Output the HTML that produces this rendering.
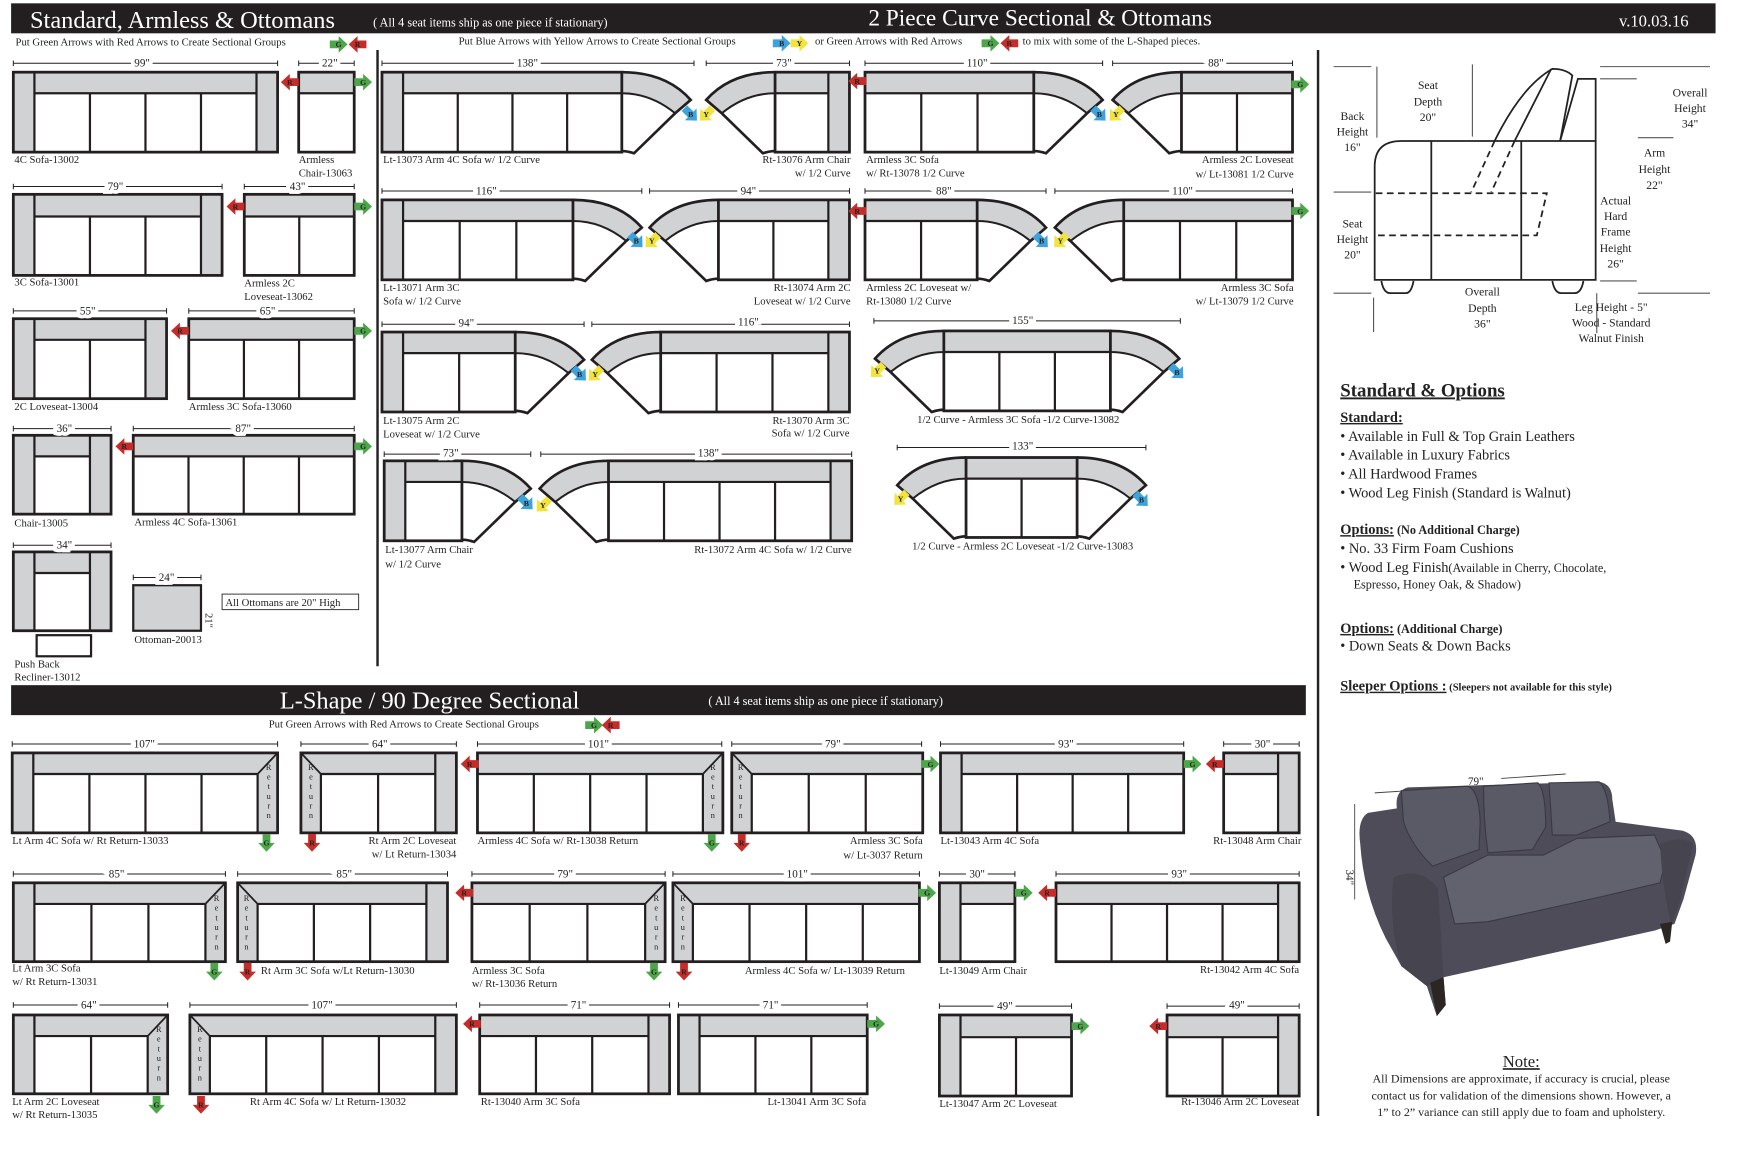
<!DOCTYPE html>
<html><head><meta charset="utf-8">
<style>
html,body{margin:0;padding:0;background:#fff;}
svg{display:block;}
text{font-family:"Liberation Serif",serif;fill:#222;}
.lb{font-size:9.6px;}
.dm{font-size:10px;text-anchor:middle;paint-order:stroke;stroke:#fff;stroke-width:7px;}
.al{font-size:7px;font-weight:bold;text-anchor:middle;fill:#222;}
.rt{font-size:7.5px;writing-mode:vertical-rl;text-orientation:upright;letter-spacing:0.6px;}
.hd{fill:#fff;}
.sd{font-size:10.5px;text-anchor:middle;}
.op{font-size:13px;}
</style></head>
<body>
<svg id="s" width="1740" height="1156" viewBox="0 0 1567 1041" preserveAspectRatio="none" xmlns="http://www.w3.org/2000/svg">
<defs>
<polygon id="ar" points="-8,-3.5 0,-3.5 0,-7.5 8,0 0,7.5 0,3.5 -8,3.5"/>
</defs>
<rect x="10" y="3" width="1535" height="27" fill="#231f20"/>
<text class="hd" x="27" y="25" font-size="22">Standard, Armless &amp; Ottomans</text>
<text class="hd" x="336" y="24" font-size="11">( All 4 seat items ship as one piece if stationary)</text>
<text class="hd" x="782" y="23" font-size="21">2 Piece Curve Sectional &amp; Ottomans</text>
<text class="hd" x="1458" y="24" font-size="15">v.10.03.16</text>
<text class="lb" x="14" y="41">Put Green Arrows with Red Arrows to Create Sectional Groups</text>
<text class="lb" x="413" y="40">Put Blue Arrows with Yellow Arrows to Create Sectional Groups</text>
<text class="lb" x="734" y="40">or Green Arrows with Red Arrows</text>
<text class="lb" x="921" y="40">to mix with some of the L-Shaped pieces.</text>

<line x1="340" y1="45" x2="340" y2="600" stroke="#222" stroke-width="2.2"/>
<line x1="1187" y1="45" x2="1187" y2="1005" stroke="#222" stroke-width="2.2"/>

<rect x="10" y="617" width="1166" height="27" fill="#231f20"/>
<text class="hd" x="252" y="638" font-size="22">L-Shape / 90 Degree Sectional</text>
<text class="hd" x="638" y="635" font-size="11">( All 4 seat items ship as one piece if stationary)</text>
<text class="lb" x="242" y="655">Put Green Arrows with Red Arrows to Create Sectional Groups</text>

<g id="shapes"></g>

<g id="arrows">
<use href="#ar" fill="#4ea64a" transform="translate(305,40)"/><text class="al" x="305" y="42.5">G</text>
<use href="#ar" fill="#c62d2a" transform="translate(322,40) rotate(180)"/><text class="al" x="322" y="42.5">R</text>
<use href="#ar" fill="#3da3dd" transform="translate(704,39)"/><text class="al" x="704" y="41.5">B</text>
<use href="#ar" fill="#f2e43b" transform="translate(720,39)"/><text class="al" x="720" y="41.5">Y</text>
<use href="#ar" fill="#4ea64a" transform="translate(892,39)"/><text class="al" x="892" y="41.5">G</text>
<use href="#ar" fill="#c62d2a" transform="translate(909,39) rotate(180)"/><text class="al" x="909" y="41.5">R</text>
<use href="#ar" fill="#4ea64a" transform="translate(535,653)"/><text class="al" x="535" y="655.5">G</text>
<use href="#ar" fill="#c62d2a" transform="translate(550,653) rotate(180)"/><text class="al" x="550" y="655.5">R</text>
<use href="#ar" fill="#c62d2a" transform="translate(261,74) rotate(180)"/><text class="al" x="261" y="76.5">R</text>
<use href="#ar" fill="#4ea64a" transform="translate(327,74)"/><text class="al" x="327" y="76.5">G</text>
<use href="#ar" fill="#c62d2a" transform="translate(212,186) rotate(180)"/><text class="al" x="212" y="188.5">R</text>
<use href="#ar" fill="#4ea64a" transform="translate(327,186)"/><text class="al" x="327" y="188.5">G</text>
<use href="#ar" fill="#c62d2a" transform="translate(162,298) rotate(180)"/><text class="al" x="162" y="300.5">R</text>
<use href="#ar" fill="#4ea64a" transform="translate(327,298)"/><text class="al" x="327" y="300.5">G</text>
<use href="#ar" fill="#c62d2a" transform="translate(112,402) rotate(180)"/><text class="al" x="112" y="404.5">R</text>
<use href="#ar" fill="#4ea64a" transform="translate(327,402)"/><text class="al" x="327" y="404.5">G</text>
<use href="#ar" fill="#3da3dd" transform="translate(622,103) rotate(45)"/><text class="al" x="622" y="105.5">B</text>
<use href="#ar" fill="#f2e43b" transform="translate(636,103) rotate(135)"/><text class="al" x="636" y="105.5">Y</text>
<use href="#ar" fill="#c62d2a" transform="translate(772,73) rotate(180)"/><text class="al" x="772" y="75.5">R</text>
<use href="#ar" fill="#3da3dd" transform="translate(990,103) rotate(45)"/><text class="al" x="990" y="105.5">B</text>
<use href="#ar" fill="#f2e43b" transform="translate(1005,103) rotate(135)"/><text class="al" x="1005" y="105.5">Y</text>
<use href="#ar" fill="#4ea64a" transform="translate(1171,76)"/><text class="al" x="1171" y="78.5">G</text>
<use href="#ar" fill="#3da3dd" transform="translate(573,217) rotate(45)"/><text class="al" x="573" y="219.5">B</text>
<use href="#ar" fill="#f2e43b" transform="translate(587,217) rotate(135)"/><text class="al" x="587" y="219.5">Y</text>
<use href="#ar" fill="#c62d2a" transform="translate(772,190) rotate(180)"/><text class="al" x="772" y="192.5">R</text>
<use href="#ar" fill="#3da3dd" transform="translate(938,217) rotate(45)"/><text class="al" x="938" y="219.5">B</text>
<use href="#ar" fill="#f2e43b" transform="translate(955,217) rotate(135)"/><text class="al" x="955" y="219.5">Y</text>
<use href="#ar" fill="#4ea64a" transform="translate(1171,190)"/><text class="al" x="1171" y="192.5">G</text>
<use href="#ar" fill="#3da3dd" transform="translate(522,337) rotate(45)"/><text class="al" x="522" y="339.5">B</text>
<use href="#ar" fill="#f2e43b" transform="translate(536,337) rotate(135)"/><text class="al" x="536" y="339.5">Y</text>
<use href="#ar" fill="#f2e43b" transform="translate(790,334) rotate(135)"/><text class="al" x="790" y="336.5">Y</text>
<use href="#ar" fill="#3da3dd" transform="translate(1060,335) rotate(45)"/><text class="al" x="1060" y="337.5">B</text>
<use href="#ar" fill="#3da3dd" transform="translate(474,453) rotate(45)"/><text class="al" x="474" y="455.5">B</text>
<use href="#ar" fill="#f2e43b" transform="translate(489,455) rotate(135)"/><text class="al" x="489" y="457.5">Y</text>
<use href="#ar" fill="#f2e43b" transform="translate(811,449) rotate(135)"/><text class="al" x="811" y="451.5">Y</text>
<use href="#ar" fill="#3da3dd" transform="translate(1028,450) rotate(45)"/><text class="al" x="1028" y="452.5">B</text>
<use href="#ar" fill="#4ea64a" transform="translate(240,759) rotate(90)"/><text class="al" x="240" y="761.5">G</text>
<use href="#ar" fill="#c62d2a" transform="translate(281,759) rotate(90)"/><text class="al" x="281" y="761.5">R</text>
<use href="#ar" fill="#c62d2a" transform="translate(423,688) rotate(180)"/><text class="al" x="423" y="690.5">R</text>
<use href="#ar" fill="#4ea64a" transform="translate(641,759) rotate(90)"/><text class="al" x="641" y="761.5">G</text>
<use href="#ar" fill="#c62d2a" transform="translate(668,759) rotate(90)"/><text class="al" x="668" y="761.5">R</text>
<use href="#ar" fill="#4ea64a" transform="translate(838,688)"/><text class="al" x="838" y="690.5">G</text>
<use href="#ar" fill="#4ea64a" transform="translate(1074,688)"/><text class="al" x="1074" y="690.5">G</text>
<use href="#ar" fill="#c62d2a" transform="translate(1094,688) rotate(180)"/><text class="al" x="1094" y="690.5">R</text>
<use href="#ar" fill="#4ea64a" transform="translate(193,875) rotate(90)"/><text class="al" x="193" y="877.5">G</text>
<use href="#ar" fill="#c62d2a" transform="translate(223,875) rotate(90)"/><text class="al" x="223" y="877.5">R</text>
<use href="#ar" fill="#c62d2a" transform="translate(418,804) rotate(180)"/><text class="al" x="418" y="806.5">R</text>
<use href="#ar" fill="#4ea64a" transform="translate(589,875) rotate(90)"/><text class="al" x="589" y="877.5">G</text>
<use href="#ar" fill="#c62d2a" transform="translate(616,875) rotate(90)"/><text class="al" x="616" y="877.5">R</text>
<use href="#ar" fill="#4ea64a" transform="translate(835,804)"/><text class="al" x="835" y="806.5">G</text>
<use href="#ar" fill="#4ea64a" transform="translate(922,804)"/><text class="al" x="922" y="806.5">G</text>
<use href="#ar" fill="#c62d2a" transform="translate(943,804) rotate(180)"/><text class="al" x="943" y="806.5">R</text>
<use href="#ar" fill="#4ea64a" transform="translate(141,995) rotate(90)"/><text class="al" x="141" y="997.5">G</text>
<use href="#ar" fill="#c62d2a" transform="translate(181,995) rotate(90)"/><text class="al" x="181" y="997.5">R</text>
<use href="#ar" fill="#c62d2a" transform="translate(425,922) rotate(180)"/><text class="al" x="425" y="924.5">R</text>
<use href="#ar" fill="#4ea64a" transform="translate(789,922)"/><text class="al" x="789" y="924.5">G</text>
<use href="#ar" fill="#4ea64a" transform="translate(973,924)"/><text class="al" x="973" y="926.5">G</text>
<use href="#ar" fill="#c62d2a" transform="translate(1043,924) rotate(180)"/><text class="al" x="1043" y="926.5">R</text>
</g>

<g>
<text class="dm" x="128" y="60">99"</text>
<text class="dm" x="297" y="60">22"</text>
<text class="dm" x="104" y="171">79"</text>
<text class="dm" x="268" y="171">43"</text>
<text class="dm" x="79" y="283">55"</text>
<text class="dm" x="241" y="283">65"</text>
<text class="dm" x="58" y="389">36"</text>
<text class="dm" x="219" y="389">87"</text>
<text class="dm" x="58" y="494">34"</text>
<text class="dm" x="150" y="523">24"</text>
<text class="lb" x="0" y="0" transform="translate(185,552) rotate(90)">21"</text>
<text class="dm" x="475" y="60">138"</text>
<text class="dm" x="706" y="60">73"</text>
<text class="dm" x="880" y="60">110"</text>
<text class="dm" x="1095" y="60">88"</text>
<text class="dm" x="438" y="175">116"</text>
<text class="dm" x="674" y="175">94"</text>
<text class="dm" x="850" y="175">88"</text>
<text class="dm" x="1065" y="175">110"</text>
<text class="dm" x="420" y="294">94"</text>
<text class="dm" x="674" y="293">116"</text>
<text class="dm" x="921" y="292">155"</text>
<text class="dm" x="406" y="411">73"</text>
<text class="dm" x="638" y="411">138"</text>
<text class="dm" x="921" y="405">133"</text>
<text class="dm" x="130" y="673">107"</text>
<text class="dm" x="342" y="673">64"</text>
<text class="dm" x="539" y="673">101"</text>
<text class="dm" x="750" y="673">79"</text>
<text class="dm" x="960" y="673">93"</text>
<text class="dm" x="1137" y="673">30"</text>
<text class="dm" x="105" y="790">85"</text>
<text class="dm" x="310" y="790">85"</text>
<text class="dm" x="509" y="790">79"</text>
<text class="dm" x="718" y="790">101"</text>
<text class="dm" x="880" y="790">30"</text>
<text class="dm" x="1062" y="790">93"</text>
<text class="dm" x="80" y="908">64"</text>
<text class="dm" x="290" y="908">107"</text>
<text class="dm" x="521" y="908">71"</text>
<text class="dm" x="694" y="908">71"</text>
<text class="dm" x="905" y="909">49"</text>
<text class="dm" x="1114" y="908">49"</text>
</g>

<g class="lb">
<text class="lb" x="13" y="147">4C Sofa-13002</text>
<text class="lb" x="269" y="147">Armless</text><text class="lb" x="269" y="159">Chair-13063</text>
<text class="lb" x="13" y="257">3C Sofa-13001</text>
<text class="lb" x="220" y="258">Armless 2C</text><text class="lb" x="220" y="270">Loveseat-13062</text>
<text class="lb" x="13" y="369">2C Loveseat-13004</text>
<text class="lb" x="170" y="369">Armless 3C Sofa-13060</text>
<text class="lb" x="13" y="474">Chair-13005</text>
<text class="lb" x="121" y="473">Armless 4C Sofa-13061</text>
<text class="lb" x="13" y="601">Push Back</text><text class="lb" x="13" y="613">Recliner-13012</text>
<text class="lb" x="121" y="579">Ottoman-20013</text>
<rect x="200" y="535" width="123" height="14" fill="#fff" stroke="#222" stroke-width="0.8"/>
<text class="lb" x="203" y="545.5">All Ottomans are 20" High</text>

<text class="lb" x="345" y="147">Lt-13073 Arm 4C Sofa w/ 1/2 Curve</text>
<text class="lb" x="766" y="147" text-anchor="end">Rt-13076 Arm Chair</text><text class="lb" x="766" y="159" text-anchor="end">w/ 1/2 Curve</text>
<text class="lb" x="780" y="147">Armless 3C Sofa</text><text class="lb" x="780" y="159">w/ Rt-13078 1/2 Curve</text>
<text class="lb" x="1165" y="147" text-anchor="end">Armless 2C Loveseat</text><text class="lb" x="1165" y="160" text-anchor="end">w/ Lt-13081 1/2 Curve</text>
<text class="lb" x="345" y="262">Lt-13071 Arm 3C</text><text class="lb" x="345" y="274">Sofa w/ 1/2 Curve</text>
<text class="lb" x="766" y="262" text-anchor="end">Rt-13074 Arm 2C</text><text class="lb" x="766" y="274" text-anchor="end">Loveseat w/ 1/2 Curve</text>
<text class="lb" x="780" y="262">Armless 2C Loveseat w/</text><text class="lb" x="780" y="274">Rt-13080 1/2 Curve</text>
<text class="lb" x="1165" y="262" text-anchor="end">Armless 3C Sofa</text><text class="lb" x="1165" y="274" text-anchor="end">w/ Lt-13079 1/2 Curve</text>
<text class="lb" x="345" y="382">Lt-13075 Arm 2C</text><text class="lb" x="345" y="394">Loveseat w/ 1/2 Curve</text>
<text class="lb" x="765" y="382" text-anchor="end">Rt-13070 Arm 3C</text><text class="lb" x="765" y="393" text-anchor="end">Sofa w/ 1/2 Curve</text>
<text class="lb" x="917" y="381" text-anchor="middle">1/2 Curve - Armless 3C Sofa -1/2 Curve-13082</text>
<text class="lb" x="347" y="498">Lt-13077 Arm Chair</text><text class="lb" x="347" y="511">w/ 1/2 Curve</text>
<text class="lb" x="767" y="498" text-anchor="end">Rt-13072 Arm 4C Sofa w/ 1/2 Curve</text>
<text class="lb" x="921" y="495" text-anchor="middle">1/2 Curve - Armless 2C Loveseat -1/2 Curve-13083</text>

<text class="lb" x="11" y="760">Lt Arm 4C Sofa w/ Rt Return-13033</text>
<text class="lb" x="411" y="760" text-anchor="end">Rt Arm 2C Loveseat</text><text class="lb" x="411" y="772" text-anchor="end">w/ Lt Return-13034</text>
<text class="lb" x="430" y="760">Armless 4C Sofa w/ Rt-13038 Return</text>
<text class="lb" x="831" y="760" text-anchor="end">Armless 3C Sofa</text><text class="lb" x="831" y="773" text-anchor="end">w/ Lt-3037 Return</text>
<text class="lb" x="847" y="760">Lt-13043 Arm 4C Sofa</text>
<text class="lb" x="1172" y="760" text-anchor="end">Rt-13048 Arm Chair</text>
<text class="lb" x="11" y="875">Lt Arm 3C Sofa</text><text class="lb" x="11" y="887">w/ Rt Return-13031</text>
<text class="lb" x="235" y="877">Rt Arm 3C Sofa w/Lt Return-13030</text>
<text class="lb" x="425" y="877">Armless 3C Sofa</text><text class="lb" x="425" y="889">w/ Rt-13036 Return</text>
<text class="lb" x="815" y="877" text-anchor="end">Armless 4C Sofa w/ Lt-13039 Return</text>
<text class="lb" x="846" y="877">Lt-13049 Arm Chair</text>
<text class="lb" x="1170" y="876" text-anchor="end">Rt-13042 Arm 4C Sofa</text>
<text class="lb" x="11" y="995">Lt Arm 2C Loveseat</text><text class="lb" x="11" y="1007">w/ Rt Return-13035</text>
<text class="lb" x="225" y="995">Rt Arm 4C Sofa w/ Lt Return-13032</text>
<text class="lb" x="433" y="995">Rt-13040 Arm 3C Sofa</text>
<text class="lb" x="780" y="995" text-anchor="end">Lt-13041 Arm 3C Sofa</text>
<text class="lb" x="846" y="997">Lt-13047 Arm 2C Loveseat</text>
<text class="lb" x="1170" y="995" text-anchor="end">Rt-13046 Arm 2C Loveseat</text>
</g>

<g>
<text class="rt" x="242" y="687">Return</text>
<text class="rt" x="280" y="687">Return</text>
<text class="rt" x="642" y="687">Return</text>
<text class="rt" x="667" y="687">Return</text>
<text class="rt" x="195" y="805">Return</text>
<text class="rt" x="222" y="805">Return</text>
<text class="rt" x="591" y="805">Return</text>
<text class="rt" x="615" y="805">Return</text>
<text class="rt" x="143" y="923">Return</text>
<text class="rt" x="180" y="923">Return</text>
</g>

<g fill="none" stroke="#222" stroke-width="1.6">
<path d="M1238,252 L1238,150 Q1238,127 1262,127 L1437,127 L1437,252 Z"/>
<line x1="1289" y1="127" x2="1289" y2="252"/>
<line x1="1370" y1="127" x2="1370" y2="252"/>
<path d="M1346,127 Q1370,78 1398,62 Q1410,62 1416,68 L1405,127"/>
<line x1="1364" y1="127" x2="1397" y2="62"/>
<path d="M1405,127 L1421,71 L1437,71 L1437,127"/>
<path d="M1244,253 Q1246,264 1252,264 L1266,264 Q1271,264 1273,253"/>
<path d="M1398,253 Q1400,264 1406,264 L1418,264 Q1424,264 1426,253"/>
<g stroke-dasharray="6,4">
<path d="M1239,174 L1393,174 L1384,212 L1239,212"/>
<line x1="1346" y1="127" x2="1325" y2="173"/>
<line x1="1364" y1="127" x2="1343" y2="173"/>
</g>
</g>
<g stroke="#555" stroke-width="1">
<line x1="1201" y1="60" x2="1235" y2="60"/><line x1="1240" y1="60" x2="1240" y2="124"/>
<line x1="1326" y1="58" x2="1326" y2="123"/>
<line x1="1201" y1="173" x2="1235" y2="173"/>
<line x1="1201" y1="264" x2="1235" y2="264"/>
<line x1="1237" y1="268" x2="1237" y2="299"/>
<line x1="1441" y1="60" x2="1540" y2="60"/>
<line x1="1441" y1="71" x2="1474" y2="71"/>
<line x1="1475" y1="124" x2="1507" y2="124"/>
<line x1="1441" y1="253" x2="1474" y2="253"/>
<line x1="1438" y1="264" x2="1438" y2="300"/>
<line x1="1475" y1="264" x2="1540" y2="264"/>
</g>
<g class="sd">
<text class="sd" x="1218" y="108">Back</text><text class="sd" x="1218" y="122">Height</text><text class="sd" x="1218" y="136">16"</text>
<text class="sd" x="1286" y="80">Seat</text><text class="sd" x="1286" y="95">Depth</text><text class="sd" x="1286" y="109">20"</text>
<text class="sd" x="1522" y="87">Overall</text><text class="sd" x="1522" y="101">Height</text><text class="sd" x="1522" y="115">34"</text>
<text class="sd" x="1490" y="141">Arm</text><text class="sd" x="1490" y="156">Height</text><text class="sd" x="1490" y="170">22"</text>
<text class="sd" x="1455" y="184">Actual</text><text class="sd" x="1455" y="198">Hard</text><text class="sd" x="1455" y="212">Frame</text><text class="sd" x="1455" y="227">Height</text><text class="sd" x="1455" y="241">26"</text>
<text class="sd" x="1218" y="205">Seat</text><text class="sd" x="1218" y="219">Height</text><text class="sd" x="1218" y="233">20"</text>
<text class="sd" x="1335" y="266">Overall</text><text class="sd" x="1335" y="281">Depth</text><text class="sd" x="1335" y="295">36"</text>
<text class="sd" x="1451" y="280" text-anchor="start">Leg Height - 5"</text><text class="sd" x="1451" y="294" text-anchor="start">Wood - Standard</text><text class="sd" x="1451" y="308" text-anchor="start">Walnut Finish</text>
</g>

<text x="1207" y="357" font-size="17" font-weight="bold" text-decoration="underline">Standard &amp; Options</text>
<text x="1207" y="380" font-size="13" font-weight="bold" text-decoration="underline">Standard:</text>
<text class="op" x="1207" y="397">• Available in Full &amp; Top Grain Leathers</text>
<text class="op" x="1207" y="414">• Available in Luxury Fabrics</text>
<text class="op" x="1207" y="431">• All Hardwood Frames</text>
<text class="op" x="1207" y="448">• Wood Leg Finish (Standard is Walnut)</text>
<text x="1207" y="481" font-size="13" font-weight="bold"><tspan text-decoration="underline">Options:</tspan><tspan font-size="11"> (No Additional Charge)</tspan></text>
<text class="op" x="1207" y="498">• No. 33 Firm Foam Cushions</text>
<text class="op" x="1207" y="515">• Wood Leg Finish<tspan font-size="11">(Available in Cherry, Chocolate,</tspan></text>
<text x="1219" y="530" font-size="11">Espresso, Honey Oak, &amp; Shadow)</text>
<text x="1207" y="570" font-size="13" font-weight="bold"><tspan text-decoration="underline">Options:</tspan><tspan font-size="11"> (Additional Charge)</tspan></text>
<text class="op" x="1207" y="586">• Down Seats &amp; Down Backs</text>
<text x="1207" y="622" font-size="13" font-weight="bold"><tspan text-decoration="underline">Sleeper Options :</tspan><tspan font-size="9.5"> (Sleepers not available for this style)</tspan></text>

<g>
<line x1="1352" y1="701" x2="1410" y2="697" stroke="#444" stroke-width="0.8"/>
<line x1="1238" y1="714" x2="1316" y2="709" stroke="#444" stroke-width="0.8"/>
<text x="1322" y="707" font-size="10">79"</text>
<line x1="1220" y1="724" x2="1220" y2="810" stroke="#444" stroke-width="0.8"/>
<text x="0" y="0" font-size="10" transform="translate(1212,783) rotate(90)">34"</text>
<path d="M1225,760 Q1222,738 1232,732 L1258,728 Q1256,712 1268,709 L1440,704 Q1452,706 1452,720 L1455,740 L1515,748 Q1530,752 1527,770 L1516,810 L1508,832 L1490,838 L1300,880 L1302,905 L1294,915 L1285,888 L1262,870 L1248,845 Q1228,805 1225,760 Z" fill="#4d4c58"/>
<path d="M1262,712 L1322,708 Q1332,712 1333,740 L1332,765 L1290,780 Q1270,760 1264,740 Z" fill="#5a5a67" stroke="#3a3942" stroke-width="1"/>
<path d="M1336,708 L1385,705 Q1392,712 1392,745 L1380,765 L1340,768 Q1336,740 1336,708 Z" fill="#5a5a67" stroke="#3a3942" stroke-width="1"/>
<path d="M1395,705 L1440,704 Q1448,710 1450,740 L1420,752 L1398,752 Z" fill="#5a5a67" stroke="#3a3942" stroke-width="1"/>
<path d="M1300,790 L1340,770 L1390,770 L1420,755 L1490,752 L1500,775 L1495,795 L1440,808 L1340,830 L1310,832 Z" fill="#62626f" stroke="#3a3942" stroke-width="1"/>
<path d="M1255,790 Q1280,780 1295,800 L1300,880 L1285,888 L1262,870 Q1250,830 1255,790 Z" fill="#45444f"/>
<path d="M1495,760 Q1515,752 1525,760 L1512,815 L1505,832 Q1497,800 1495,760 Z" fill="#45444f"/>
<path d="M1495,832 L1500,850 L1504,848 L1506,830 Z" fill="#2b2622"/>
<path d="M1288,885 L1294,915 L1302,905 L1300,880 Z" fill="#2b2622"/>
</g>

<text x="1370" y="961" font-size="15" text-anchor="middle" text-decoration="underline">Note:</text>
<text x="1370" y="975" font-size="10.8" text-anchor="middle">All Dimensions are approximate, if accuracy is crucial, please</text>
<text x="1370" y="990" font-size="10.8" text-anchor="middle">contact us for validation of the dimensions shown. However, a</text>
<text x="1370" y="1005" font-size="10.8" text-anchor="middle">1” to 2” variance can still apply due to foam and upholstery.</text>
</svg>
<script>
(function(){
var NS="http://www.w3.org/2000/svg",G=document.getElementById("shapes"),GR="#d1d2d4",K="#231f20";
function el(t,a){var e=document.createElementNS(NS,t);for(var k in a)e.setAttribute(k,a[k]);G.appendChild(e);return e;}
function ln(x1,y1,x2,y2,w){el("line",{x1:x1,y1:y1,x2:x2,y2:y2,stroke:K,"stroke-width":w||2});}
function S(x,y,w,h,o){o=o||{};var l=o.l||0,r=o.r||0,rl=o.rl||0,rr=o.rr||0,n=o.n||1,b=o.b||Math.round(h*0.27);
 el("rect",{x:x,y:y,width:w,height:h,fill:"#fff"});
 var bx1=x+l,bx2=x+w-r;el("rect",{x:bx1,y:y,width:bx2-bx1,height:b,fill:GR});
 if(l)el("rect",{x:x,y:y,width:l,height:h,fill:GR});
 if(r)el("rect",{x:x+w-r,y:y,width:r,height:h,fill:GR});
 if(rl)el("rect",{x:x+l,y:y,width:rl,height:h,fill:GR});
 if(rr)el("rect",{x:x+w-r-rr,y:y,width:rr,height:h,fill:GR});
 var xs=x+l+rl,xe=x+w-r-rr;ln(xs,y+b,xe,y+b,2);
 if(l)ln(x+l,y,x+l,y+h,2); if(r)ln(x+w-r,y,x+w-r,y+h,2);
 if(rl){ln(x+l+rl,y+b,x+l+rl,y+h,2);ln(x+l,y,x+l+rl,y+b,1.6);}
 if(rr){ln(x+w-r-rr,y+b,x+w-r-rr,y+h,2);ln(x+w-r,y,x+w-r-rr,y+b,1.6);}
 for(var i=1;i<n;i++){var xx=xs+(xe-xs)*i/n;ln(xx,y+b,xx,y+h,2);}
 el("rect",{x:x,y:y,width:w,height:h,fill:"none",stroke:K,"stroke-width":2.5});
}
function C(xc,y,d){var g=document.createElementNS(NS,"g");g.setAttribute("transform","translate("+xc+","+y+") scale("+d+",1)");
 function p(dd,f,s){var e=document.createElementNS(NS,"path");e.setAttribute("d",dd);e.setAttribute("fill",f);if(s){e.setAttribute("stroke",K);e.setAttribute("stroke-width",s);}g.appendChild(e);}
 p("M0,0 Q40,0 62,25 L48,37 L11,73 Q5,71 0,71 Z","#fff");
 p("M0,0 Q40,0 62,25 L48,37 Q26,19 0,19 Z",GR,1.8);
 p("M0,0 Q40,0 62,25 L48,37 L11,73 Q5,71 0,71","none",2.4);
 G.appendChild(g);}
function D(x1,x2,y){ln(x1,y,x2,y,0.9);ln(x1,y-2.5,x1,y+2.5,0.9);ln(x2,y-2.5,x2,y+2.5,0.9);}
S(12,65,238,72,{l:19,r:19,n:4});D(12,250,57);
S(269,65,50,72,{n:1});D(269,319,57);
S(12,175,188,73,{l:19,r:19,n:3});D(12,200,168);
S(220,175,99,73,{n:2});D(220,319,168);
S(12,287,138,72,{l:19,r:19,n:2});D(12,150,280);
S(170,287,149,72,{n:3});D(170,319,280);
S(12,392,88,71,{l:19,r:19,n:1});D(12,100,386);
S(120,392,199,71,{n:4});D(120,319,386);
S(12,497,88,71,{l:19,r:19,n:1});D(12,100,491);
el("rect",{x:33,y:572,width:49,height:19,fill:"#fff",stroke:K,"stroke-width":2});
el("rect",{x:120,y:527,width:61,height:41,fill:GR,stroke:K,"stroke-width":2});D(120,181,520);
ln(181,530,181,566,0.8);
C(560,65,1);S(344,65,216,72,{l:19,n:4});D(344,625,57);
C(698,65,-1);S(698,65,67,72,{r:19,n:1});D(636,765,57);
C(931,65,1);S(779,65,152,72,{n:3});D(779,993,57);
C(1064,65,-1);S(1064,65,100,72,{n:2});D(1002,1164,57);
C(516,180,1);S(344,180,172,72,{l:19,n:3});D(344,578,172);
C(647,180,-1);S(647,180,118,72,{r:19,n:2});D(585,765,172);
C(880,180,1);S(779,180,101,72,{n:2});D(779,942,172);
C(1012,180,-1);S(1012,180,152,72,{n:3});D(950,1164,172);
C(464,299,1);S(344,299,120,72,{l:19,n:2});D(344,526,292);
C(595,299,-1);S(595,299,170,72,{r:19,n:3});D(533,765,292);
C(1000,298,1);C(850,298,-1);S(850,298,150,72,{n:3});D(787,1063,289);
C(416,415,1);S(346,415,70,72,{l:19,n:1});D(346,478,409);
C(548,415,-1);S(548,415,219,72,{r:19,n:4});D(487,767,409);
C(970,412,1);C(870,412,-1);S(870,412,100,72,{n:2});D(808,1032,403);
S(11,678,239,72,{l:19,rr:18,n:4});D(11,250,670);
S(271,678,140,72,{r:19,rl:18,n:2});D(271,411,670);
S(430,678,221,72,{rr:18,n:4});D(430,650,670);
S(659,678,172,72,{rl:18,n:3});D(659,830,670);
S(847,678,219,72,{l:19,n:4});D(847,1066,670);
S(1102,678,68,72,{r:19,n:1});D(1102,1170,670);
S(12,795,191,71,{l:19,rr:18,n:3});D(12,203,787);
S(214,795,189,71,{r:19,rl:18,n:3});D(214,403,787);
S(425,795,174,71,{rr:18,n:3});D(425,599,787);
S(606,795,222,71,{rl:18,n:4});D(606,828,787);
S(846,795,68,71,{l:19,n:1});D(846,914,787);
S(951,795,219,71,{r:19,n:4});D(951,1170,787);
S(12,914,139,71,{l:19,rr:18,n:2});D(12,151,905);
S(171,914,240,71,{r:19,rl:18,n:4});D(171,411,905);
S(432,914,171,71,{r:19,n:3});D(432,603,905);
S(611,914,170,71,{l:19,n:3});D(611,781,905);
S(846,914,119,73,{l:19,n:2});D(846,965,906);
S(1051,914,119,73,{r:19,n:2});D(1051,1170,906);
})();
</script>
</body></html>
